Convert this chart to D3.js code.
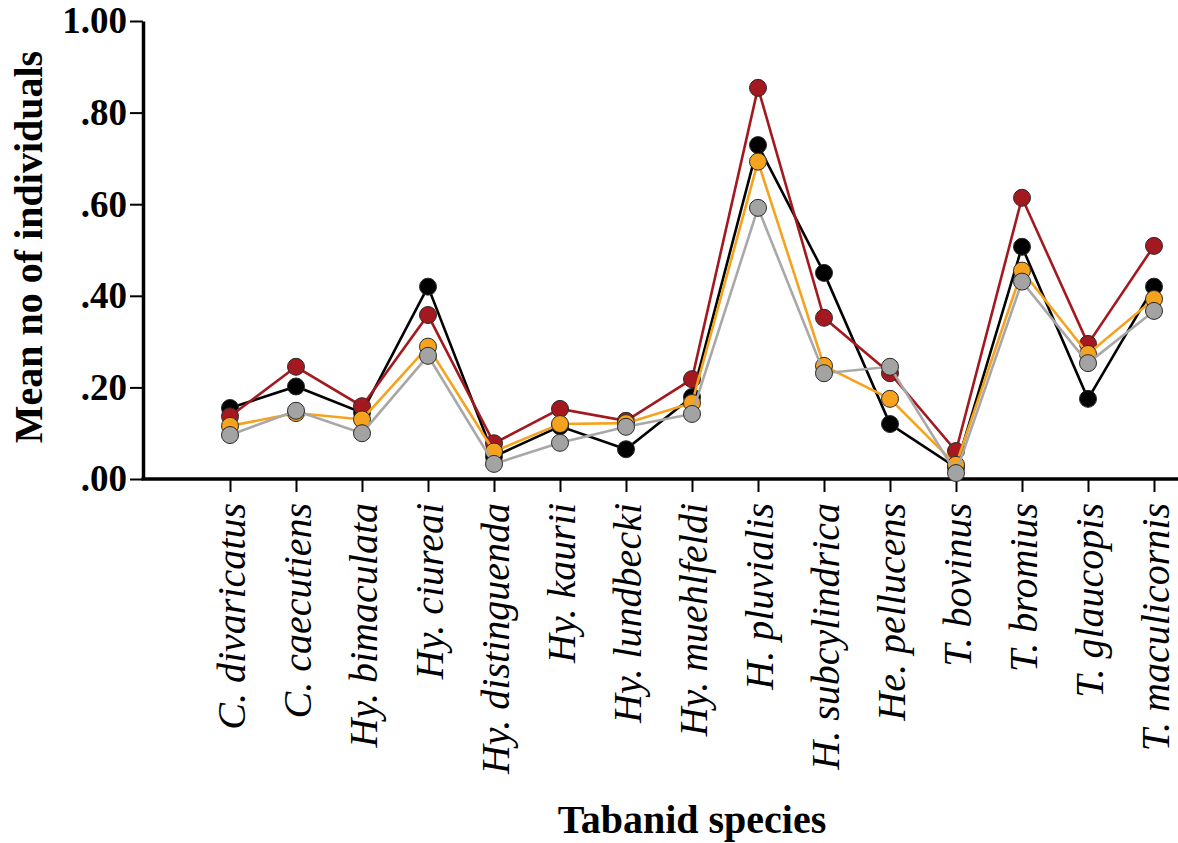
<!DOCTYPE html>
<html>
<head>
<meta charset="utf-8">
<script src="https://cdn.jsdelivr.net/npm/d3@7"></script>
<style>
  body { margin: 0; background: #fff; }
  text { font-family: "Liberation Serif", "Times New Roman", serif; }
</style>
</head>
<body>
<div id="chart-area"></div>
<script>
/* chart size */
var width = 1178;
var height = 843;

/* data */
var species = ["C. divaricatus", "C. caecutiens", "Hy. bimaculata", "Hy. ciureai",
    "Hy. distinguenda", "Hy. kaurii", "Hy. lundbecki", "Hy. muehlfeldi",
    "H. pluvialis", "H. subcylindrica", "He. pellucens", "T. bovinus",
    "T. bromius", "T. glaucopis", "T. maculicornis"];
var blackSeries = [0.155, 0.202, 0.145, 0.420, 0.049, 0.115, 0.065, 0.179, 0.729, 0.450, 0.120, 0.025, 0.507, 0.175, 0.420];
var redSeries = [0.137, 0.245, 0.159, 0.358, 0.078, 0.153, 0.127, 0.218, 0.854, 0.352, 0.231, 0.061, 0.614, 0.295, 0.509];
var orangeSeries = [0.116, 0.144, 0.130, 0.289, 0.060, 0.120, 0.122, 0.166, 0.693, 0.247, 0.175, 0.031, 0.455, 0.273, 0.393];
var greySeries = [0.096, 0.149, 0.100, 0.269, 0.033, 0.079, 0.114, 0.142, 0.592, 0.231, 0.245, 0.013, 0.431, 0.253, 0.367];
var yTicks = [0, 0.2, 0.4, 0.6, 0.8, 1.0];

/* draw order: black first, grey on top */
var series = [
    { values: blackSeries, line: "#000000", fill: "#000000" },
    { values: redSeries, line: "#a3191f", fill: "#a3191f" },
    { values: orangeSeries, line: "#f5a31e", fill: "#f5a31e" },
    { values: greySeries, line: "#a8a8a8", fill: "#a3a3a3" }
];

var svg = d3.select("#chart-area")
    .append("svg")
    .attr("width", width)
    .attr("height", height);

/* scales */
var x = d3.scalePoint()
    .domain(species)
    .range([230, 1154]);

var y = d3.scaleLinear()
    .domain([0, 1])
    .range([479, 21]);

var axisX = 143;

/* y axis */
var yAxis = svg.append("g")
    .attr("transform", "translate(" + axisX + ",0)")
    .call(d3.axisLeft(y)
        .tickValues(yTicks)
        .tickSize(13)
        .tickSizeOuter(0)
        .tickPadding(3)
        .tickFormat(function(d) {
            var s = d3.format(".2f")(d);
            return d < 1 ? s.replace(/^0/, "") : s;
        }));
yAxis.select(".domain").attr("stroke-width", 3.5);
yAxis.selectAll(".tick line").attr("stroke-width", 2);
yAxis.selectAll(".tick text")
    .style("font-family", "'Liberation Serif', serif")
    .style("font-size", "37px")
    .style("font-weight", "bold")
    .attr("fill", "#000");

/* x axis */
var xAxis = svg.append("g")
    .attr("transform", "translate(0," + y(0) + ")")
    .call(d3.axisBottom(x).tickSize(13).tickSizeOuter(0));
xAxis.select(".domain").remove();
xAxis.selectAll(".tick line").attr("stroke-width", 2);
xAxis.selectAll(".tick text")
    .attr("transform", "rotate(-90)")
    .attr("text-anchor", "end")
    .attr("x", -24)
    .attr("y", 0)
    .attr("dy", "0.36em")
    .style("font-family", "'Liberation Serif', serif")
    .style("font-size", "40px")
    .style("font-style", "italic")
    .attr("fill", "#000");

svg.append("line")
    .attr("x1", axisX - 1.5)
    .attr("x2", width)
    .attr("y1", y(0))
    .attr("y2", y(0))
    .attr("stroke", "#000")
    .attr("stroke-width", 3.5);

/* lines and markers */
var line = d3.line()
    .x(function(d, i) { return x(species[i]); })
    .y(function(d) { return y(d); });

series.forEach(function(s) {
    var g = svg.append("g");
    g.append("path")
        .datum(s.values)
        .attr("d", line)
        .attr("fill", "none")
        .attr("stroke", s.line)
        .attr("stroke-width", 2.6);
    g.selectAll("circle")
        .data(s.values)
        .enter().append("circle")
        .attr("cx", function(d, i) { return x(species[i]); })
        .attr("cy", function(d) { return y(d); })
        .attr("r", 8.5)
        .attr("fill", s.fill)
        .attr("stroke", "#2a2a2a")
        .attr("stroke-width", 1);
});

/* axis titles */
svg.append("text")
    .attr("transform", "translate(42,247) rotate(-90)")
    .attr("text-anchor", "middle")
    .style("font-size", "40px")
    .style("font-weight", "bold")
    .text("Mean no of individuals");

svg.append("text")
    .attr("x", 692)
    .attr("y", 833)
    .attr("text-anchor", "middle")
    .style("font-size", "40px")
    .style("font-weight", "bold")
    .text("Tabanid species");
</script>
</body>
</html>
